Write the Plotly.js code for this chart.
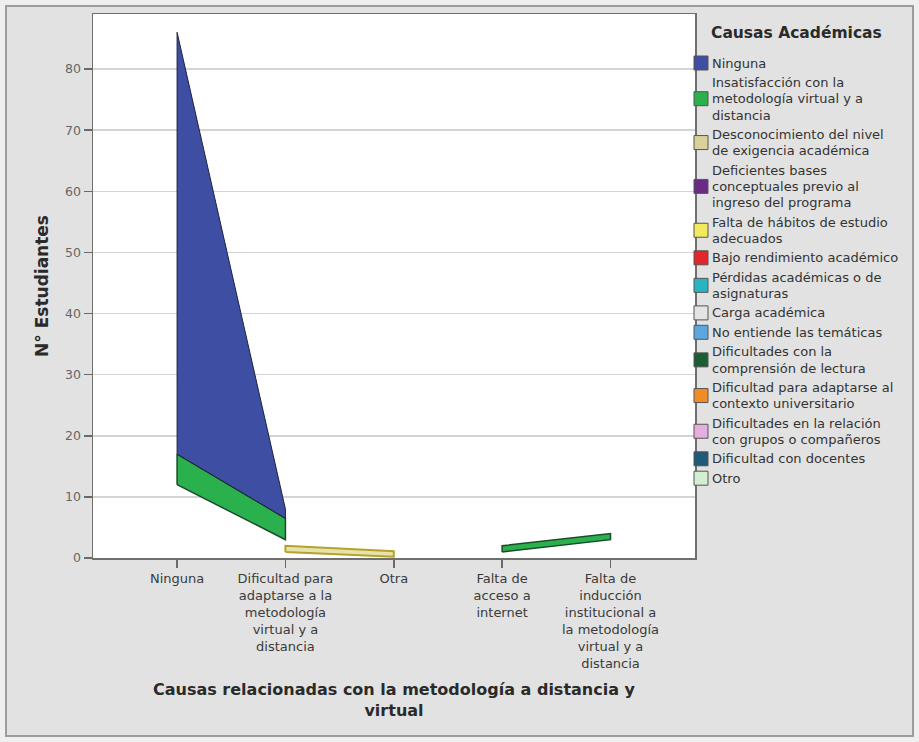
<!DOCTYPE html>
<html>
<head>
<meta charset="utf-8">
<script src="https://cdn.plot.ly/plotly-3.0.1.min.js"></script>
<style>
  html, body { margin: 0; padding: 0; background: #e2e2e2; }
  #chart { width: 919px; height: 742px; }
</style>
</head>
<body>
<div id="chart"></div>
<script>
// ---------------- DATA ----------------
const categories = [
  'Ninguna',
  'Dificultad para adaptarse a la metodología virtual y a distancia',
  'Otra',
  'Falta de acceso a internet',
  'Falta de inducción institucional a la metodología virtual y a distancia'
];
const tickLabels = [
  'Ninguna',
  'Dificultad para<br>adaptarse a la<br>metodología<br>virtual y a<br>distancia',
  'Otra',
  'Falta de<br>acceso a<br>internet',
  'Falta de<br>inducción<br>institucional a<br>la metodología<br>virtual y a<br>distancia'
];

// stacked (cumulative) lower / upper bounds of each drawn band, N° Estudiantes
const ningunaLower         = [17, 6.5, null, null, null];
const ningunaUpper         = [86, 8,   null, null, null];
const insatisfaccionLower  = [12, 3,   null, 1,    3];
const insatisfaccionUpper  = [17, 6.5, null, 2,    4];
const desconocimientoLower = [null, 1, 0.2, null, null];
const desconocimientoUpper = [null, 2, 1.1, null, null];

const legendTitle = 'Causas Académicas';
const legendLabels = [
  'Ninguna',
  'Insatisfacción con la<br>metodología virtual y a<br>distancia',
  'Desconocimiento del nivel<br>de exigencia académica',
  'Deficientes bases<br>conceptuales previo al<br>ingreso del programa',
  'Falta de hábitos de estudio<br>adecuados',
  'Bajo rendimiento académico',
  'Pérdidas académicas o de<br>asignaturas',
  'Carga académica',
  'No entiende las temáticas',
  'Dificultades con la<br>comprensión de lectura',
  'Dificultad para adaptarse al<br>contexto universitario',
  'Dificultades en la relación<br>con grupos o compañeros',
  'Dificultad con docentes',
  'Otro'
];
const legendColors = [
  '#3e4ea2', '#2bb04e', '#d9d09a', '#6b2a84', '#f2ea5c', '#e2262c', '#27b6c1',
  '#e4e4e4', '#5ea6de', '#1b5d34', '#f08c26', '#e6aee0', '#1f5a78', '#d3eed0'
];

// ---------------- LAYOUT GEOMETRY ----------------
const W = 919, H = 742;
const M = { l: 93, r: 224, t: 14, b: 184 };
const PW = W - M.l - M.r, PH = H - M.t - M.b;
const px = x => (x - M.l) / PW;
const py = y => (H - M.b - y) / PH;
const FONT = 'DejaVu Sans, Arial, sans-serif';

// ---------------- TRACES ----------------
function bandTraces(lower, upper, fill, line, lw) {
  const out = [];
  for (let i = 0; i < categories.length - 1; i++) {
    if ([lower[i], lower[i + 1], upper[i], upper[i + 1]].some(v => v === null)) continue;
    out.push({
      type: 'scatter', mode: 'lines',
      x: [categories[i], categories[i + 1], categories[i + 1], categories[i], categories[i]],
      y: [lower[i], lower[i + 1], upper[i + 1], upper[i], lower[i]],
      fill: 'toself', fillcolor: fill,
      line: { color: line, width: lw },
      showlegend: false, hoverinfo: 'skip'
    });
  }
  return out;
}
const traces = [
  ...bandTraces(insatisfaccionLower, insatisfaccionUpper, legendColors[1], '#1a4a2a', 1.5),
  ...bandTraces(ningunaLower, ningunaUpper, legendColors[0], '#1d2340', 1),
  ...bandTraces(desconocimientoLower, desconocimientoUpper, '#e8e2aa', '#b3a32c', 2)
];

// ---------------- CUSTOM LEGEND ----------------
const shapes = [
  { type: 'rect', xref: 'paper', yref: 'paper', layer: 'above',
    x0: px(0), x1: px(W), y0: py(H), y1: py(0),
    line: { color: '#efefef', width: 10 }, fillcolor: 'rgba(0,0,0,0)' },
  { type: 'rect', xref: 'paper', yref: 'paper', layer: 'above',
    x0: px(6), x1: px(913), y0: py(736), y1: py(6),
    line: { color: '#9c9c9c', width: 2 }, fillcolor: 'rgba(0,0,0,0)' }
];
const annotations = [{
  xref: 'paper', yref: 'paper', x: px(709), y: py(33), xanchor: 'left', yanchor: 'middle',
  text: '<b>' + legendTitle + '</b>', showarrow: false,
  font: { family: FONT, size: 15.5, color: '#2a2a2a' }
}];
const LINE_STEP = 16.3, ITEM_STEP = 19.4;
let cursor = 63;
legendLabels.forEach((lab, k) => {
  const lines = lab.split('<br>');
  const first = cursor;
  lines.forEach((ln, j) => {
    annotations.push({
      xref: 'paper', yref: 'paper', x: px(710), y: py(cursor), xanchor: 'left', yanchor: 'middle',
      text: ln, showarrow: false,
      font: { family: FONT, size: 13, color: '#333333' }
    });
    if (j < lines.length - 1) cursor += LINE_STEP;
  });
  const mid = (first + cursor) / 2;
  shapes.push({
    type: 'rect', xref: 'paper', yref: 'paper', layer: 'above',
    x0: px(694), x1: px(708), y0: py(mid + 7), y1: py(mid - 7),
    fillcolor: legendColors[k], line: { color: '#555555', width: 1 }
  });
  cursor += ITEM_STEP;
});

// ---------------- LAYOUT ----------------
const layout = {
  width: W, height: H,
  margin: M,
  paper_bgcolor: '#e2e2e2',
  plot_bgcolor: '#ffffff',
  showlegend: false,
  font: { family: FONT, color: '#333333' },
  xaxis: {
    type: 'category',
    categoryorder: 'array', categoryarray: categories,
    range: [-0.776, 4.78],
    tickmode: 'array', tickvals: categories, ticktext: tickLabels,
    ticks: 'outside', ticklen: 8, tickwidth: 1.5, tickcolor: '#6a6a6a',
    tickfont: { family: FONT, size: 13, color: '#3a3a3a' },
    showgrid: false, zeroline: false,
    showline: true, mirror: true, linecolor: '#6f6f6f', linewidth: 1.5,
    fixedrange: true,
    title: {
      text: '<b>Causas relacionadas con la metodología a distancia y<br>virtual</b>',
      font: { family: FONT, size: 16, color: '#2a2a2a' },
      standoff: 14
    }
  },
  yaxis: {
    range: [0, 89],
    tick0: 0, dtick: 10,
    ticks: 'outside', ticklen: 8, tickwidth: 1.5, tickcolor: '#6a6a6a',
    tickfont: { family: FONT, size: 12.5, color: '#666666' },
    showgrid: true, gridcolor: '#d4d4d4', gridwidth: 1.5,
    zeroline: false,
    showline: true, mirror: true, linecolor: '#6f6f6f', linewidth: 1.5,
    fixedrange: true,
    title: {
      text: '<b>N° Estudiantes</b>',
      font: { family: FONT, size: 17, color: '#2a2a2a' },
      standoff: 12
    }
  },
  shapes: shapes,
  annotations: annotations
};

Plotly.newPlot('chart', traces, layout, { displayModeBar: false, staticPlot: true });
</script>
</body>
</html>
